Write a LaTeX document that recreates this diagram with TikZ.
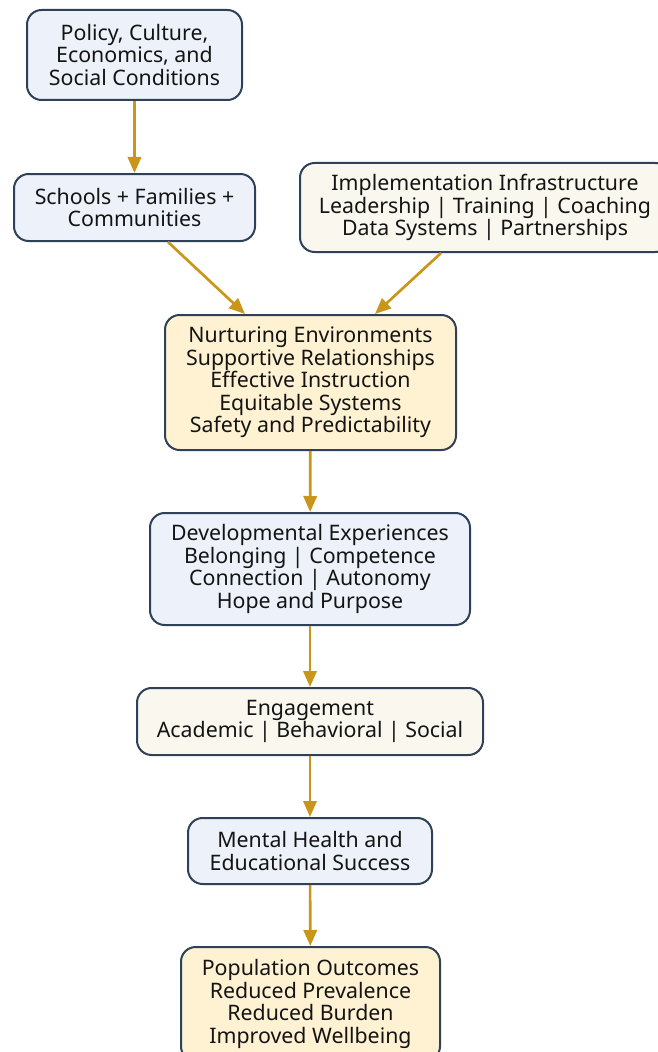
\documentclass[tikz,border=0pt]{standalone}
\usepackage{fontspec}
\setmainfont{Noto Sans}
\usetikzlibrary{arrows.meta}
\definecolor{edgeblue}{HTML}{2F4158}
\definecolor{fillblue}{HTML}{EDF2FA}
\definecolor{fillyellow}{HTML}{FFF2D2}
\definecolor{fillcream}{HTML}{FAF7EF}
\definecolor{arrowgold}{HTML}{C9961A}
\tikzset{
  box/.style={draw=edgeblue, line width=1.5pt, rounded corners=11pt, inner sep=0pt,
    align=center, text=black!92, font=\fontsize{16pt}{16.9pt}\selectfont},
  bluebox/.style={box, fill=fillblue},
  yellowbox/.style={box, fill=fillyellow},
  creambox/.style={box, fill=fillcream},
  flow/.style={draw=arrowgold, line width=2pt, -{Triangle[length=12pt,width=10pt]}}
}
\begin{document}
\begin{tikzpicture}[x=0.75pt,y=-0.75pt]
\useasboundingbox (0,0) rectangle (657,1052);
\node[bluebox, minimum width=161.25pt, minimum height=67.5pt] (pol) at (134.5,55)
  {Policy, Culture,\\Economics, and\\Social Conditions};
\node[bluebox, minimum width=180.75pt, minimum height=50.25pt] (sch) at (134.5,207.5)
  {Schools + Families +\\Communities};
\node[creambox, minimum width=277.5pt, minimum height=66.75pt] (imp) at (485,207.5)
  {Implementation Infrastructure\\Leadership | Training | Coaching\\Data Systems | Partnerships};
\node[yellowbox, minimum width=218.25pt, minimum height=101.25pt] (nur) at (310.5,382.5)
  {Nurturing Environments\\Supportive Relationships\\Effective Instruction\\Equitable Systems\\Safety and Predictability};
\node[bluebox, minimum width=240pt, minimum height=84pt] (dev) at (310,569)
  {Developmental Experiences\\Belonging | Competence\\Connection | Autonomy\\Hope and Purpose};
\node[creambox, minimum width=259.5pt, minimum height=50.25pt] (eng) at (310,721.5)
  {Engagement\\Academic | Behavioral | Social};
\node[bluebox, minimum width=183pt, minimum height=49.5pt] (mh) at (310,851)
  {Mental Health and\\Educational Success};
\node[yellowbox, minimum width=194.25pt, minimum height=85.5pt] (pop) at (310.5,1004)
  {Population Outcomes\\Reduced Prevalence\\Reduced Burden\\Improved Wellbeing};

\draw[flow] (pol) -- (sch);
\draw[flow] ([xshift=25.125pt]sch.south) -- ([xshift=-49.125pt]nur.north);
\draw[flow] ([xshift=-33pt]imp.south) -- ([xshift=48.375pt]nur.north);
\draw[flow] (nur) -- (dev);
\draw[flow] (dev) -- (eng);
\draw[flow] (eng) -- (mh);
\draw[flow] (mh) -- (pop);
\end{tikzpicture}
\end{document}
